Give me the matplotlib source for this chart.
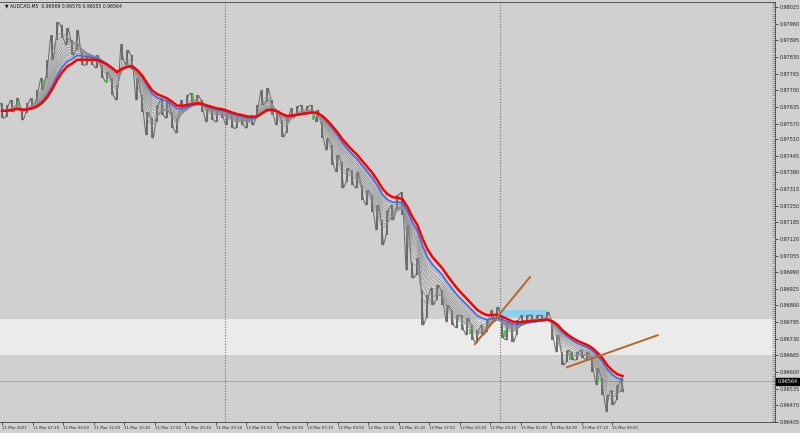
import numpy as np
import pandas as pd
import matplotlib
matplotlib.use("Agg")
import matplotlib.pyplot as plt
import matplotlib.transforms as mtransforms
from matplotlib.ticker import MultipleLocator

# header line of the chart window
symbol_text = "AUDCAD,M5  0.96569 0.96576 0.96555 0.96564"
last_price = 0.96564

# price range per sample (one sample ~ 5.25 M5 bars)
bar_high = [0.97650, 0.97642, 0.97662, 0.97669, 0.97630, 0.97650, 0.97669, 0.97701, 0.97748, 0.97818,
            0.97915, 0.97966, 0.97954, 0.97943, 0.97896, 0.97935, 0.97849, 0.97837, 0.97837, 0.97837,
            0.97798, 0.97771, 0.97748, 0.97720, 0.97880, 0.97857, 0.97837, 0.97748, 0.97681, 0.97615,
            0.97591, 0.97642, 0.97669, 0.97662, 0.97615, 0.97591, 0.97662, 0.97681, 0.97689, 0.97681,
            0.97662, 0.97630, 0.97630, 0.97623, 0.97630, 0.97615, 0.97603, 0.97595, 0.97603, 0.97591,
            0.97603, 0.97642, 0.97701, 0.97708, 0.97662, 0.97615, 0.97584, 0.97591, 0.97630, 0.97638,
            0.97642, 0.97638, 0.97642, 0.97623, 0.97576, 0.97513, 0.97486, 0.97447, 0.97420, 0.97396,
            0.97388, 0.97381, 0.97330, 0.97310, 0.97291, 0.97252, 0.97193, 0.97232, 0.97252, 0.97291,
            0.97302, 0.97174, 0.97029, 0.97045, 0.96920, 0.96900, 0.96928, 0.96939, 0.96920, 0.96861,
            0.96842, 0.96822, 0.96822, 0.96811, 0.96783, 0.96764, 0.96783, 0.96803, 0.96842, 0.96854,
            0.96811, 0.96795, 0.96783, 0.96803, 0.96822, 0.96822, 0.96822, 0.96822, 0.96822, 0.96834,
            0.96803, 0.96744, 0.96678, 0.96686, 0.96678, 0.96678, 0.96686, 0.96678, 0.96658, 0.96615,
            0.96576, 0.96510, 0.96529, 0.96549, 0.96576]
bar_low = [0.97591, 0.97595, 0.97615, 0.97630, 0.97584, 0.97611, 0.97630, 0.97654, 0.97701, 0.97748,
           0.97818, 0.97896, 0.97904, 0.97876, 0.97837, 0.97857, 0.97798, 0.97798, 0.97798, 0.97787,
           0.97748, 0.97732, 0.97681, 0.97662, 0.97818, 0.97798, 0.97779, 0.97662, 0.97615, 0.97525,
           0.97513, 0.97576, 0.97603, 0.97591, 0.97552, 0.97533, 0.97615, 0.97630, 0.97654, 0.97642,
           0.97615, 0.97576, 0.97584, 0.97576, 0.97591, 0.97564, 0.97552, 0.97552, 0.97564, 0.97552,
           0.97564, 0.97591, 0.97642, 0.97654, 0.97603, 0.97564, 0.97517, 0.97533, 0.97591, 0.97603,
           0.97611, 0.97607, 0.97611, 0.97576, 0.97513, 0.97466, 0.97408, 0.97381, 0.97318, 0.97342,
           0.97330, 0.97318, 0.97271, 0.97252, 0.97224, 0.97154, 0.97096, 0.97135, 0.97193, 0.97232,
           0.97213, 0.96998, 0.96967, 0.96978, 0.96783, 0.96811, 0.96861, 0.96881, 0.96861, 0.96795,
           0.96783, 0.96772, 0.96764, 0.96744, 0.96725, 0.96713, 0.96744, 0.96756, 0.96811, 0.96811,
           0.96732, 0.96725, 0.96717, 0.96744, 0.96791, 0.96795, 0.96795, 0.96795, 0.96799, 0.96803,
           0.96725, 0.96678, 0.96627, 0.96639, 0.96647, 0.96647, 0.96654, 0.96647, 0.96600, 0.96549,
           0.96510, 0.96444, 0.96471, 0.96490, 0.96522]
bar_step = 5.25

# highlighted (green) bars: bar index, low, high
green_bar = [17, 43, 110, 200, 253, 299, 326, 483, 491, 528, 596, 625]
green_low = [0.97638, 0.97716, 0.97728, 0.97666, 0.97584, 0.97560, 0.97584, 0.96787, 0.96748, 0.96736, 0.96647, 0.96557]
green_high = [0.97654, 0.97740, 0.97748, 0.97685, 0.97599, 0.97580, 0.97603, 0.96807, 0.96768, 0.96764, 0.96674, 0.96588]

time_labels = ["11 Mar 2021", "11 Mar 07:10", "11 Mar 09:50", "11 Mar 12:30", "11 Mar 15:10",
               "11 Mar 17:50", "11 Mar 20:30", "11 Mar 23:10", "12 Mar 01:50", "12 Mar 04:30",
               "12 Mar 07:10", "12 Mar 09:50", "12 Mar 12:30", "12 Mar 15:10", "12 Mar 17:50",
               "12 Mar 20:30", "12 Mar 23:10", "15 Mar 01:50", "15 Mar 04:30", "15 Mar 07:10",
               "15 Mar 09:50"]
label_every = 32
day_breaks = [234, 522]

price_ticks = [0.98025, 0.97960, 0.97895, 0.97830, 0.97765, 0.97700, 0.97635, 0.97570, 0.97510,
               0.97445, 0.97380, 0.97315, 0.97250, 0.97185, 0.97120, 0.97055, 0.96990, 0.96925,
               0.96860, 0.96795, 0.96730, 0.96665, 0.96600, 0.96535, 0.96470, 0.96405]

zone_low, zone_high = 0.96666, 0.96807
box_bars = (522, 573)
box_prices = (0.96815, 0.96842)
trend_a = ([496, 554], [0.96709, 0.96971])
trend_b = ([593, 688], [0.96619, 0.96744])

ema_gray = [8, 12, 16, 20, 24, 28, 32, 36, 40, 45]
ema_blue = 50
ema_red = 60

bg = "#d0d0d0"
fig = plt.figure(figsize=(8, 4.33), dpi=100, facecolor=bg)
ax = fig.add_axes([0, 11 / 433, 775 / 800, 420 / 433])
ax.set_facecolor(bg)

x = np.arange(len(bar_high)) * bar_step
hi = np.array(bar_high)
lo = np.array(bar_low)
mid = pd.Series((hi + lo) / 2)

ax.axhspan(zone_low, zone_high, color="#ebebeb", lw=0, zorder=0)
for d in day_breaks:
    ax.axvline(d, color="#707070", lw=0.8, ls=(0, (1, 1.5)), zorder=1)
ax.axhline(last_price, color="#9aa6b8", lw=0.7, zorder=1)

ax.fill_between([box_bars[0], box_bars[1]], box_prices[0], box_prices[1], color="#8fd0f0", lw=0, zorder=2)

# jagged bar look: zigzag through highs and lows
zx = np.empty(2 * len(x))
zy = np.empty(2 * len(x))
zx[0::2] = x - bar_step / 4
zx[1::2] = x + bar_step / 4
zy[0::2] = np.where(np.arange(len(x)) % 2 == 0, hi, lo)
zy[1::2] = np.where(np.arange(len(x)) % 2 == 0, lo, hi)
ax.vlines(x, lo, hi, color="#666666", lw=1.3, zorder=3)
ax.plot(zx, zy, color="#666666", lw=0.7, zorder=3)
ax.vlines(green_bar, green_low, green_high, color="#3ec83e", lw=1.3, zorder=4)

for p in ema_gray:
    ax.plot(x, mid.ewm(span=p / bar_step, adjust=False).mean(), color="#8c8c8c", lw=0.45, zorder=5)
ax.plot(x, mid.ewm(span=ema_blue / bar_step, adjust=False).mean(), color="#3f6fe6", lw=1.3, zorder=6)
ax.plot(x, mid.ewm(span=ema_red / bar_step, adjust=False).mean(), color="#ff0000", lw=1.8, zorder=7)

ax.plot(trend_a[0], trend_a[1], color="#b8642e", lw=1.4, zorder=8)
ax.plot(trend_b[0], trend_b[1], color="#b8642e", lw=1.4, zorder=8)

ax.set_xlim(-2.1, 811)
ax.set_ylim(0.96405, 0.98045)

ax.set_xticks(np.arange(len(time_labels)) * label_every)
ax.set_xticklabels(time_labels, ha="left")
ax.set_yticks(price_ticks)
ax.set_yticklabels([f"{p:.5f}" for p in price_ticks])
ax.yaxis.tick_right()
ax.yaxis.set_minor_locator(MultipleLocator(0.00008))
ax.tick_params(axis="both", labelsize=3.5, colors="#222222", length=2, width=0.5, pad=1.5)
ax.tick_params(axis="x", labelsize=2.8, pad=1)
ax.tick_params(axis="y", which="minor", direction="in", length=2, width=0.6, color="#888888")
ax.spines["left"].set_visible(False)
for s in ["right", "bottom", "top"]:
    ax.spines[s].set_color("#444444")
    ax.spines[s].set_linewidth(0.6)

trans = mtransforms.blended_transform_factory(ax.transAxes, ax.transData)
ax.text(1.003, last_price, f"{last_price:.5f}", transform=trans, fontsize=3.5, color="white",
        va="center", ha="left", bbox=dict(boxstyle="square,pad=0.25", fc="black", ec="black"))
ax.text(0.006, 0.996, "\u25bc " + symbol_text, transform=ax.transAxes, fontsize=3.3,
        color="#111111", va="top", ha="left")

fig.savefig("out.png", dpi=100, facecolor=bg)
